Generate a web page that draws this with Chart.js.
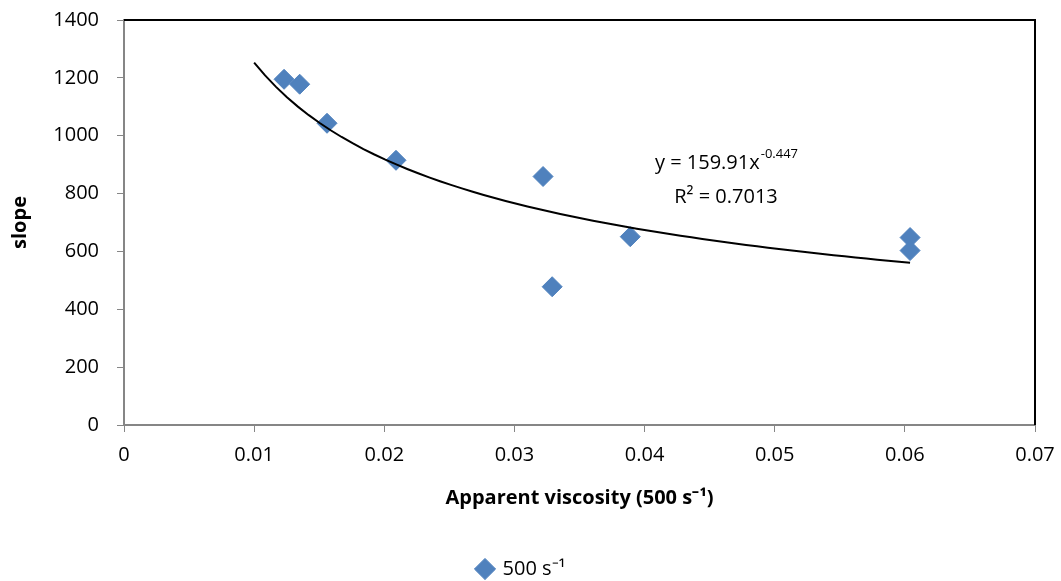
<!DOCTYPE html>
<html>
<head>
<meta charset="utf-8">
<script src="https://cdn.jsdelivr.net/npm/chart.js@4.4.0/dist/chart.umd.min.js"></script>
<style>
  html,body{margin:0;padding:0;background:#fff;}
</style>
</head>
<body>
<canvas id="chart" width="1061" height="581"></canvas>
<script>
// measured points: apparent viscosity at 500 1/s vs slope
const viscosity = [0.0123, 0.0135, 0.0156, 0.0209, 0.0322, 0.0329, 0.0389, 0.0604, 0.0604];
const slope = [1195, 1178, 1043, 915, 859, 478, 651, 648, 603];
const xTickLabels = ["0", "0.01", "0.02", "0.03", "0.04", "0.05", "0.06", "0.07"];
const yTickLabels = ["0", "200", "400", "600", "800", "1000", "1200", "1400"];

// power trendline y = a * x^b, drawn over the span of the data
const trendA = 159.91;
const trendB = -0.447;
const trendR2 = 0.7013;
const trendFrom = 0.01;
const trendTo = 0.0604;

const trend = [];
for (let i = 0; i <= 60; i++) {
  const x = trendFrom + (trendTo - trendFrom) * i / 60;
  trend.push({ x: x, y: trendA * Math.pow(x, trendB) });
}

const FONT = "'Open Sans'";
const BLUE = "#4F81BD";
const AXIS = "#868686";

const frameAndLabel = {
  id: "frameAndLabel",
  afterDatasetsDraw(chart) {
    const { ctx, chartArea: a } = chart;
    ctx.save();
    ctx.strokeStyle = "#000";
    ctx.lineWidth = 2;
    ctx.beginPath();
    ctx.moveTo(a.left, a.top);
    ctx.lineTo(a.right, a.top);
    ctx.lineTo(a.right, a.bottom);
    ctx.stroke();

    // trendline equation
    ctx.fillStyle = "#000";
    ctx.textBaseline = "alphabetic";
    const big = "20px " + FONT, small = "13px " + FONT;
    const main = "y = " + trendA + "x", sup = String(trendB);
    ctx.font = big;
    const w1 = ctx.measureText(main).width;
    ctx.font = small;
    const w2 = ctx.measureText(sup).width;
    const cx = 726;
    let x0 = cx - (w1 + w2) / 2;
    ctx.font = big;
    ctx.fillText(main, x0, 169);
    ctx.font = small;
    ctx.fillText(sup, x0 + w1 + 1, 158);
    ctx.font = big;
    ctx.textAlign = "center";
    ctx.fillText("R² = " + trendR2, cx, 203);
    ctx.restore();
  }
};

new Chart(document.getElementById("chart"), {
  type: "scatter",
  data: {
    datasets: [
      {
        label: "500 s⁻¹",
        data: viscosity.map((v, i) => ({ x: v, y: slope[i] })),
        backgroundColor: BLUE,
        borderColor: BLUE,
        pointStyle: "rectRot",
        pointRadius: 10,
        pointHoverRadius: 10,
        order: 1
      },
      {
        label: "trend",
        data: trend,
        type: "line",
        showLine: true,
        borderColor: "#000",
        borderWidth: 2,
        pointRadius: 0,
        fill: false,
        tension: 0,
        order: 0
      }
    ]
  },
  options: {
    responsive: false,
    animation: false,
    layout: { padding: { left: 8, right: 26, top: 20, bottom: -8 } },
    plugins: {
      tooltip: { enabled: false },
      legend: {
        position: "bottom",
        labels: {
          filter: item => item.text !== "trend",
          usePointStyle: true,
          pointStyle: "rectRot",
          boxWidth: 15,
          boxHeight: 15,
          padding: 2,
          color: "#000",
          font: { family: FONT, size: 20 }
        }
      }
    },
    scales: {
      x: {
        type: "linear",
        min: 0,
        max: 0.07,
        ticks: {
          stepSize: 0.01,
          color: "#000",
          padding: 11,
          font: { family: FONT, size: 20 },
          callback: (v, i) => xTickLabels[i]
        },
        grid: { drawOnChartArea: false, color: AXIS, tickLength: 7 },
        border: { color: AXIS, width: 2 },
        title: {
          display: true,
          text: "Apparent viscosity (500 s⁻¹)",
          color: "#000",
          font: { family: FONT, size: 20, weight: "bold" },
          padding: { top: 10, bottom: 47 }
        },
        afterFit: s => { s.height = 132; s.paddingLeft = 0; s.paddingRight = 0; }
      },
      y: {
        min: 0,
        max: 1400,
        ticks: {
          stepSize: 200,
          color: "#000",
          padding: 18,
          font: { family: FONT, size: 20 },
          callback: (v, i) => yTickLabels[i]
        },
        grid: { drawOnChartArea: false, color: AXIS, tickLength: 7 },
        border: { color: AXIS, width: 2 },
        title: {
          display: true,
          text: "slope",
          color: "#000",
          font: { family: FONT, size: 20, weight: "bold" },
          padding: { top: 0, bottom: 10 }
        },
        afterFit: s => { s.width = 116; s.paddingTop = 0; s.paddingBottom = 0; }
      }
    }
  },
  plugins: [frameAndLabel]
});
</script>
</body>
</html>
